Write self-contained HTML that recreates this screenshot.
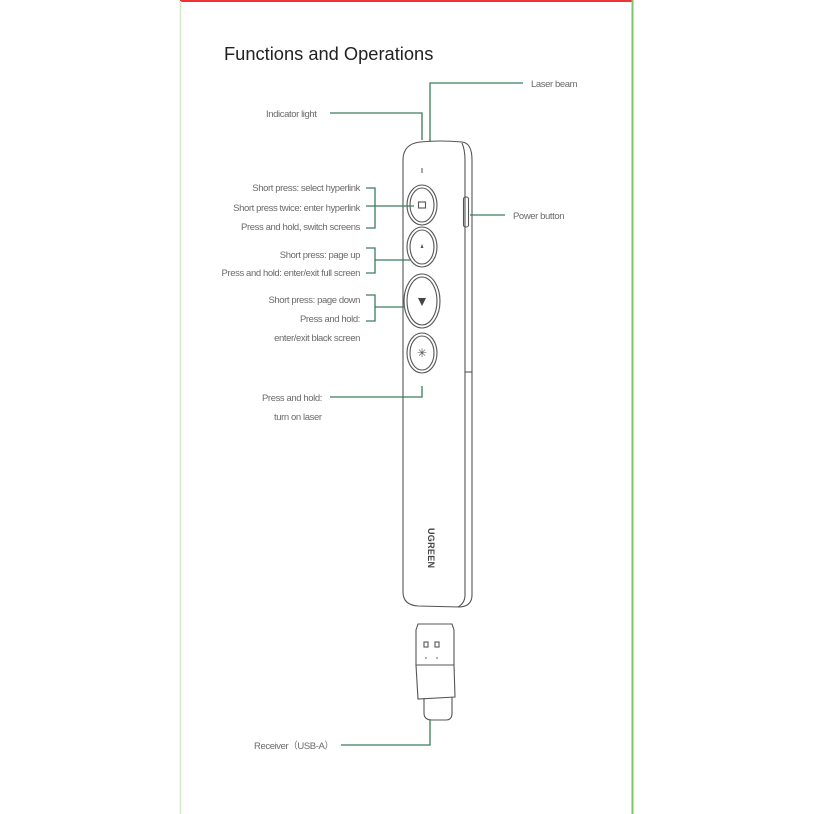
<!DOCTYPE html>
<html><head><meta charset="utf-8"><style>
html,body{margin:0;padding:0;background:#fff;}
svg{display:block;}
text{font-family:"Liberation Sans",sans-serif;fill:#6a6a6a;font-size:9.5px;letter-spacing:-0.4px;}
</style></head><body>
<svg width="814" height="814" viewBox="0 0 814 814" xmlns="http://www.w3.org/2000/svg">
<line x1="180" y1="1" x2="633" y2="1" stroke="#e33" stroke-width="2"/>
<line x1="180.5" y1="1" x2="180.5" y2="814" stroke="#d6e6c8" stroke-width="1.5"/>
<line x1="632.5" y1="0" x2="632.5" y2="814" stroke="#7cc56a" stroke-width="2"/>
<text x="224" y="60" style="font-size:18.3px;fill:#222;letter-spacing:0">Functions and Operations</text>

<g fill="none" stroke="#555" stroke-width="1.1">
<path d="M403,160 Q403,144 420,142 Q440,140 462,142 Q472,143 472,160 L472,595 Q472,606 460,607 L418,606 Q403,605 403,592 Z" fill="#fff"/>
<path d="M462,143 Q465,150 465,160 L465,595 Q465,603 458,607"/>
<rect x="463.5" y="197" width="5" height="30" rx="2"/>
<line x1="465" y1="372" x2="472" y2="372"/>
<ellipse cx="422" cy="205" rx="15" ry="20"/><ellipse cx="422" cy="205" rx="12" ry="17"/>
<ellipse cx="422" cy="247" rx="15" ry="20"/><ellipse cx="422" cy="247" rx="12" ry="17"/>
<ellipse cx="422" cy="301" rx="18" ry="27"/><ellipse cx="422" cy="301" rx="15" ry="24"/>
<ellipse cx="422" cy="353" rx="15" ry="20"/><ellipse cx="422" cy="353" rx="12" ry="17"/>
<rect x="418.5" y="202" width="7" height="6"/>
<path d="M416,630 L418,624 L452,624 L454,630 L454,665 L416,665 Z"/>
<path d="M416,665 L454,665 L455,697 L418,699 Z"/>
<path d="M424,698 L424,713 Q424,720 432,720 L446,720 Q452,720 452,713 L452,697"/>
<rect x="424" y="642" width="4" height="5"/><rect x="435" y="642" width="4" height="5"/>
</g>
<line x1="422" y1="168" x2="422" y2="173" stroke="#888" stroke-width="1.5"/>
<path d="M420.5,248 L423.5,248 L422,244 Z" fill="#555"/>
<path d="M418,298 L426,298 L422,306 Z" fill="#444"/>
<text x="417" y="357" style="font-size:12px;fill:#555">✳</text>
<circle cx="426" cy="658" r="0.8" fill="#555"/><circle cx="437" cy="658" r="0.8" fill="#555"/>
<text transform="translate(428,528) rotate(90)" style="font-size:9px;font-weight:bold;fill:#444;letter-spacing:0.3px">UGREEN</text>

<g fill="none" stroke="#3a7d5c" stroke-width="1.3">
<polyline points="523,83 430,83 430,142"/>
<polyline points="330,113 422,113 422,140"/>
<polyline points="366,188 375,188 375,228 366,228"/>
<line x1="366" y1="206" x2="414" y2="206"/>
<polyline points="366,248 375,248 375,273 366,273"/>
<line x1="375" y1="260" x2="410" y2="260"/>
<polyline points="366,295 375,295 375,321 366,321"/>
<line x1="375" y1="307" x2="405" y2="307"/>
<polyline points="330,397 422,397 422,386"/>
<line x1="470" y1="215" x2="505" y2="215"/>
<polyline points="341,745 430,745 430,720"/>
</g>

<text x="531" y="87">Laser beam</text>
<text x="266" y="117">Indicator light</text>
<text x="513" y="219">Power button</text>
<text x="360" y="191" text-anchor="end">Short press: select hyperlink</text>
<text x="360" y="211" text-anchor="end">Short press twice: enter hyperlink</text>
<text x="360" y="230" text-anchor="end">Press and hold, switch screens</text>
<text x="360" y="258" text-anchor="end">Short press: page up</text>
<text x="360" y="276" text-anchor="end">Press and hold: enter/exit full screen</text>
<text x="360" y="303" text-anchor="end">Short press: page down</text>
<text x="360" y="322" text-anchor="end">Press and hold:</text>
<text x="360" y="341" text-anchor="end">enter/exit black screen</text>
<text x="262" y="401">Press and hold:</text>
<text x="274" y="420">turn on laser</text>
<text x="254" y="749">Receiver（USB-A）</text>
</svg>
</body></html>
